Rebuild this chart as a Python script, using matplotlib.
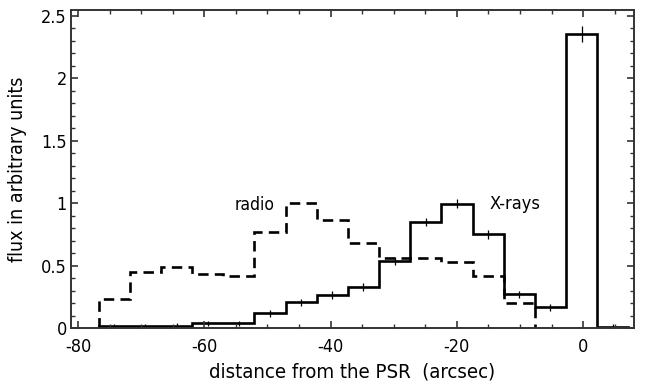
import numpy as np
import matplotlib
matplotlib.use('Agg')
import matplotlib.pyplot as plt
from matplotlib.ticker import MultipleLocator

plt.rcParams['font.family'] = ['DejaVu Sans']
plt.rcParams['font.stretch'] = 'condensed'
plt.rcParams['axes.unicode_minus'] = False
plt.rcParams['lines.scale_dashes'] = False

# bin edges along the cut (arcsec)
edges = [-76.7, -71.8, -66.9, -61.9, -57.0, -52.1, -47.1, -42.2, -37.3,
         -32.3, -27.4, -22.5, -17.5, -12.6, -7.7, -2.7, 2.2, 7.1]

xray = [0.015, 0.015, 0.018, 0.037, 0.037, 0.117, 0.205, 0.264, 0.33,
        0.536, 0.85, 0.995, 0.75, 0.27, 0.165, 2.355, 0.01]
xray_err = [0.02, 0.02, 0.02, 0.02, 0.02, 0.025, 0.03, 0.03, 0.03,
            0.035, 0.035, 0.035, 0.035, 0.03, 0.03, 0.065, 0.02]

radio = [0.23, 0.45, 0.49, 0.43, 0.42, 0.77, 1.0, 0.865, 0.68,
         0.56, 0.56, 0.53, 0.42, 0.20]

fig = plt.figure(figsize=(6.46, 3.9), dpi=100)
ax = fig.add_axes([0.110, 0.159, 0.871, 0.815])

ax.stairs(xray, edges, baseline=0, color='black', lw=1.9)
centers = 0.5 * (np.array(edges[:-1]) + np.array(edges[1:]))
ax.errorbar(centers, xray, yerr=xray_err, fmt='none', ecolor='black',
            elinewidth=0.9, capsize=0)

ax.stairs(radio, edges[:len(radio) + 1], baseline=0, color='black', lw=1.9,
          linestyle=(0, (7.5, 4.5)))

ax.text(-55.2, 0.945, 'radio', fontsize=12.5, ha='left', va='baseline')
ax.text(-14.8, 0.95, 'X-rays', fontsize=13, ha='left', va='baseline')

ax.set_xlim(-81.1, 8.0)
ax.set_ylim(0, 2.547)
ax.xaxis.set_major_locator(MultipleLocator(20))
ax.xaxis.set_minor_locator(MultipleLocator(5))
ax.yaxis.set_major_locator(MultipleLocator(0.5))
ax.yaxis.set_minor_locator(MultipleLocator(0.1))
ax.set_yticks([0, 0.5, 1, 1.5, 2, 2.5], ['0', '0.5', '1', '1.5', '2', '2.5'])
ax.set_xticks([-80, -60, -40, -20, 0], ['-80', '-60', '-40', '-20', '0'])

ax.tick_params(which='both', direction='in', top=True, right=True,
               labelsize=13, color='#333333')
ax.tick_params(which='major', length=5, width=1.2)
ax.tick_params(axis='x', which='major', pad=7)
ax.tick_params(axis='y', which='major', pad=3)
ax.tick_params(which='minor', length=3, width=1.0)
for sp in ax.spines.values():
    sp.set_linewidth(1.4)
    sp.set_color('#333333')

ax.set_xlabel('distance from the PSR  (arcsec)', fontsize=14.6, labelpad=5)
ax.set_ylabel('flux in arbitrary units', fontsize=14, labelpad=10)

fig.savefig('out.png', dpi=100)
